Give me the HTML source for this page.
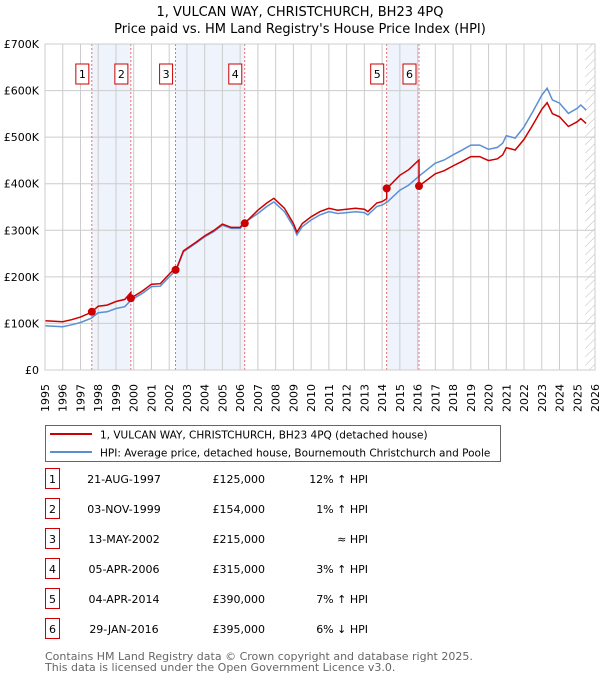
<!DOCTYPE html>
<html><head><meta charset="utf-8"><style>
body{margin:0;background:#fff;font-family:"Liberation Sans","DejaVu Sans",sans-serif;}
svg text{font-family:"DejaVu Sans","Liberation Sans",sans-serif;}
</style></head><body>
<svg id="c" width="600" height="680" viewBox="0 0 600 680">
<defs><pattern id="hatch" width="6" height="6" patternUnits="userSpaceOnUse" patternTransform="rotate(45)"><line x1="0" y1="0" x2="0" y2="6" stroke="#bbb" stroke-width="1"/></pattern></defs>
<text x="300" y="16" text-anchor="middle" font-size="13">1, VULCAN WAY, CHRISTCHURCH, BH23 4PQ</text>
<text x="300" y="33" text-anchor="middle" font-size="13">Price paid vs. HM Land Registry's House Price Index (HPI)</text>
<g id="plot"></g>
<g>
<rect x="45.5" y="425.5" width="455" height="36" fill="#fff" stroke="#666"/>
<line x1="50" y1="434" x2="92" y2="434" stroke="#cc0000" stroke-width="2"/>
<text x="100" y="438.5" font-size="10.5">1, VULCAN WAY, CHRISTCHURCH, BH23 4PQ (detached house)</text>
<line x1="50" y1="452" x2="92" y2="452" stroke="#5b8fd4" stroke-width="2"/>
<text x="100" y="456.5" font-size="10.5">HPI: Average price, detached house, Bournemouth Christchurch and Poole</text>
</g>
<g id="table"></g>
<text x="45" y="660" font-size="11" fill="#666">Contains HM Land Registry data © Crown copyright and database right 2025.</text>
<text x="45" y="671" font-size="11" fill="#666">This data is licensed under the Open Government Licence v3.0.</text>
</svg>
<script>
const hpiYears=[1995,1996,1996.5,1997,1997.6,1998,1998.5,1999,1999.5,1999.85,2000.5,2001,2001.5,2002,2002.4,2002.8,2003.5,2004,2004.5,2005,2005.5,2006,2006.3,2007,2007.5,2007.9,2008.5,2009,2009.2,2009.5,2010,2010.5,2011,2011.5,2012,2012.5,2013,2013.2,2013.7,2014,2014.3,2015,2015.5,2016.1,2016.5,2017,2017.5,2018,2018.5,2019,2019.5,2020,2020.5,2020.8,2021,2021.5,2022,2022.5,2023,2023.3,2023.6,2024,2024.5,2025,2025.2,2025.5];
const hpiValues=[95,93,97,102,111,123,125,132,136,150,165,179,180,200,215,254,272,286,297,311,304,304,318,336,351,361,340,308,290,308,322,333,340,336,338,340,338,333,351,354,361,386,397,417,429,444,451,462,472,483,483,474,478,487,503,498,522,555,590,605,580,573,551,562,569,558];
const saleYears=[1997.64,1999.84,2002.36,2006.26,2014.26,2016.08];
const salePrices=[125,154,215,315,390,395];
const saleDates=["21-AUG-1997","03-NOV-1999","13-MAY-2002","05-APR-2006","04-APR-2014","29-JAN-2016"];
const salePriceLabels=["£125,000","£154,000","£215,000","£315,000","£390,000","£395,000"];
const saleHpiLabels=["12% ↑ HPI","1% ↑ HPI","≈ HPI","3% ↑ HPI","7% ↑ HPI","6% ↓ HPI"];
const yTicks=[0,100,200,300,400,500,600,700];
const yTickLabels=["£0","£100K","£200K","£300K","£400K","£500K","£600K","£700K"];

const NS="http://www.w3.org/2000/svg";
const L=45,R=595,T=44,B=370;
const x=y=>L+(y-1995)/(2026-1995)*(R-L);
const yv=v=>B-v/700*(B-T);
function mk(tag,attrs,parent){const e=document.createElementNS(NS,tag);for(const k in attrs)e.setAttribute(k,attrs[k]);parent.appendChild(e);return e;}
const plot=document.getElementById('plot');
function hpiAt(t){for(let i=0;i<hpiYears.length-1;i++){if(t<=hpiYears[i+1]){const f=(t-hpiYears[i])/(hpiYears[i+1]-hpiYears[i]);return hpiValues[i]+f*(hpiValues[i+1]-hpiValues[i]);}}return hpiValues[hpiValues.length-1];}
for(let i=0;i<saleYears.length;i+=2){
const r=mk('rect',{x:x(saleYears[i]),y:T,width:x(saleYears[i+1])-x(saleYears[i]),height:B-T,fill:'#eef3fc'},plot);


}
const h=mk('rect',{x:x(2025.45),y:T,width:R-x(2025.45),height:B-T,fill:'url(#hatch)'},plot);


for(let yr=1995;yr<=2026;yr++){
const g=mk('line',{x1:x(yr),x2:x(yr),y1:T,y2:B,stroke:'#ccc','stroke-width':1},plot);


const t=mk('text',{x:0,y:0,transform:`translate(${x(yr)+4},${412}) rotate(-90)`,'font-size':11},plot);
t.textContent=yr;


}
yTicks.forEach((v,i)=>{
const g=mk('line',{x1:L,x2:R,y1:yv(v),y2:yv(v),stroke:'#ccc','stroke-width':1},plot);


const t=mk('text',{x:L-6,y:yv(v)+4,'text-anchor':'end','font-size':11},plot);
t.textContent=yTickLabels[i];


});
saleYears.forEach((s,i)=>{
const l=mk('line',{x1:x(s),x2:x(s),y1:T,y2:B,stroke:'#e05050','stroke-width':0.8,'stroke-dasharray':'2,2'},plot);


const bx=x(s)-3-12;
const r=mk('rect',{x:bx-1,y:64,width:13,height:20,fill:'#fff',stroke:'#cc0000'},plot);


const t=mk('text',{x:bx+5.5,y:78,'text-anchor':'middle','font-size':11},plot);
t.textContent=i+1;


});
const hp=mk('path',{d:hpiYears.map((t,i)=>(i?'L':'M')+x(t).toFixed(1)+','+yv(hpiValues[i]).toFixed(1)).join(''),fill:'none',stroke:'#5b8fd4','stroke-width':1.5},plot);


function seg(t){let k=0;for(let i=0;i<saleYears.length;i++)if(t>=saleYears[i])k=i;return k;}
function propAt(t,k){let v=hpiAt(t)*salePrices[k]/hpiAt(saleYears[k]);if(k===3&&t>2006.6)v*=1.025;return v;}
const allT=[...hpiYears,...saleYears].sort((a,b)=>a-b);
let d='';
allT.forEach(t=>{
const k=seg(t);
if(saleYears.includes(t)&&k>0){d+='L'+x(t).toFixed(1)+','+yv(propAt(t,k-1)).toFixed(1);}
d+=(d?'L':'M')+x(t).toFixed(1)+','+yv(propAt(t,k)).toFixed(1);
});
const pp=mk('path',{d:d,fill:'none',stroke:'#cc0000','stroke-width':1.5},plot);


saleYears.forEach((s,i)=>{
const c=mk('circle',{cx:x(s),cy:yv(salePrices[i]),r:4,fill:'#cc0000'},plot);


});
mk('rect',{x:L,y:T,width:R-L,height:B-T,fill:'none',stroke:'#ccc'},plot);
const tb=document.getElementById('table');
saleDates.forEach((dt,i)=>{
const y=483+i*30;
const r=mk('rect',{x:45.5,y:y-14.5,width:14,height:20,fill:'#fff',stroke:'#cc0000'},tb);


const n=mk('text',{x:52.5,y:y,'text-anchor':'middle','font-size':11},tb);n.textContent=i+1;


const a=mk('text',{x:124,y:y,'text-anchor':'middle','font-size':11},tb);a.textContent=dt;


const b=mk('text',{x:265,y:y,'text-anchor':'end','font-size':11},tb);b.textContent=salePriceLabels[i];


const c=mk('text',{x:368,y:y,'text-anchor':'end','font-size':11},tb);c.textContent=saleHpiLabels[i];


});
</script>
</body></html>
